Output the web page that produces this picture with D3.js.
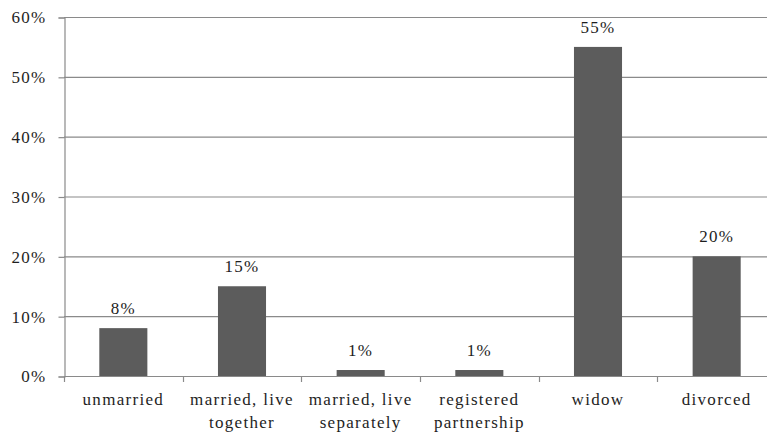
<!DOCTYPE html>
<html>
<head>
<meta charset="utf-8">
<script src="https://cdn.jsdelivr.net/npm/d3@7"></script>
<style>
  html, body { margin: 0; padding: 0; background: #fff; }
  svg { display: block; }
</style>
</head>
<body>
<svg id="chart" width="767" height="436"></svg>
<script>
// Marital status shares
const categories = ["unmarried", "married, live\ntogether", "married, live\nseparately", "registered\npartnership", "widow", "divorced"];
const values = [8, 15, 1, 1, 55, 20];
const yTicks = [0, 10, 20, 30, 40, 50, 60];

const FONT = '"Liberation Serif", "Times New Roman", serif';
const FONT_SIZE = 17;
const SPACING = 1.3;
const GRID = "#8a8a8a";
const INK = "#1e1e1e";

const svg = d3.select("#chart");
const plotLeft = 64, plotRight = 776, plotTop = 17, plotBottom = 376;

const x = d3.scaleBand().domain(categories).range([plotLeft, plotRight]).paddingInner(0.595).paddingOuter(0.2975);
const y = d3.scaleLinear().domain([0, 60]).range([plotBottom, plotTop]);

function styleText(sel) {
  return sel.style("font-family", FONT)
    .style("font-size", FONT_SIZE + "px")
    .style("letter-spacing", SPACING + "px")
    .style("fill", INK);
}

// horizontal gridlines
svg.append("g")
  .selectAll("line")
  .data(yTicks.filter(d => d > 0))
  .join("line")
  .attr("x1", plotLeft).attr("x2", plotRight)
  .attr("y1", d => y(d) + 0.5).attr("y2", d => y(d) + 0.5)
  .attr("stroke", GRID).attr("stroke-width", 1.2);

// bars
svg.append("g")
  .selectAll("rect")
  .data(values)
  .join("rect")
  .attr("x", (d, i) => x(categories[i]))
  .attr("width", x.bandwidth())
  .attr("y", d => y(d))
  .attr("height", d => y(0) - y(d))
  .attr("fill", "#5c5c5c");

// y axis
const yAxis = d3.axisLeft(y).tickValues(yTicks).tickFormat(d => d + "%").tickSize(6).tickPadding(12);
const gy = svg.append("g").attr("transform", `translate(${plotLeft + 0.5},0.5)`).call(yAxis);
gy.select(".domain").attr("stroke", GRID).attr("stroke-width", 1.2);
gy.selectAll(".tick line").attr("stroke", GRID).attr("stroke-width", 1.2);
styleText(gy.selectAll(".tick text"));

// x axis baseline and category boundary ticks
const step = x.step();
const boundaries = d3.range(categories.length + 1).map(i => plotLeft + i * step);
svg.append("line")
  .attr("x1", plotLeft).attr("x2", plotRight)
  .attr("y1", plotBottom + 0.5).attr("y2", plotBottom + 0.5)
  .attr("stroke", GRID).attr("stroke-width", 1.2);
svg.append("g")
  .selectAll("line")
  .data(boundaries)
  .join("line")
  .attr("x1", d => Math.round(d) + 0.5).attr("x2", d => Math.round(d) + 0.5)
  .attr("y1", plotBottom).attr("y2", plotBottom + 6)
  .attr("stroke", GRID).attr("stroke-width", 1.2);

// category labels
const labels = styleText(svg.append("g")
  .selectAll("text")
  .data(categories)
  .join("text")
  .attr("text-anchor", "middle")
  .attr("x", d => x(d) + x.bandwidth() / 2)
  .attr("y", 405));
labels.selectAll("tspan")
  .data(d => d.split("\n").map(t => ({ t, cx: x(d) + x.bandwidth() / 2 })))
  .join("tspan")
  .attr("x", d => d.cx)
  .attr("dy", (d, i) => i === 0 ? 0 : 23)
  .text(d => d.t);

// value labels
styleText(svg.append("g")
  .selectAll("text")
  .data(values)
  .join("text")
  .attr("text-anchor", "middle")
  .attr("x", (d, i) => x(categories[i]) + x.bandwidth() / 2)
  .attr("y", d => y(d) - 14)
  .text(d => d + "%"));
</script>
</body>
</html>
